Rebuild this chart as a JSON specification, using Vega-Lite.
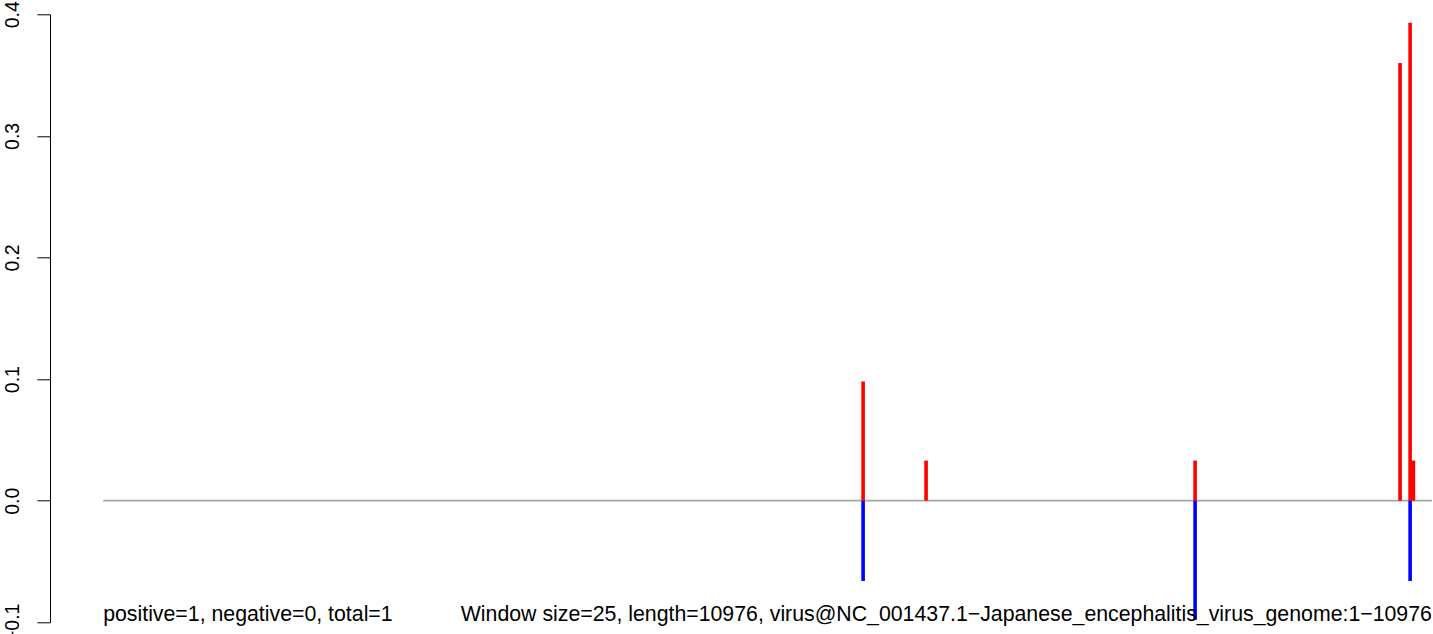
{
  "$schema": "https://vega.github.io/schema/vega-lite/v6.json",
  "autosize": {"type": "none"},
  "padding": {"left": 50, "top": 14.3, "right": 0, "bottom": 11.7},
  "width": 1383,
  "height": 608,
  "background": "white",
  "config": {"view": {"stroke": null}, "font": "Liberation Sans"},
  "datasets": {
    "signal": [
      {"pos": 6278, "value": 0.098, "strand": "plus"},
      {"pos": 6278, "value": -0.066, "strand": "minus"},
      {"pos": 6798, "value": 0.033, "strand": "plus"},
      {"pos": 9020, "value": 0.033, "strand": "plus"},
      {"pos": 9020, "value": -0.098, "strand": "minus"},
      {"pos": 10713, "value": 0.36, "strand": "plus"},
      {"pos": 10796, "value": 0.393, "strand": "plus"},
      {"pos": 10796, "value": -0.066, "strand": "minus"},
      {"pos": 10823, "value": 0.033, "strand": "plus"}
    ],
    "notes": [
      {"pos": 1, "label": "positive=1, negative=0, total=1", "side": "left"},
      {"pos": 10976, "label": "Window size=25, length=10976, virus@NC_001437.1−Japanese_encephalitis_virus_genome:1−10976", "side": "right"}
    ],
    "baseline": [
      {"start": 1, "end": 10976, "level": 0}
    ]
  },
  "layer": [
    {
      "data": {"name": "baseline"},
      "mark": {"type": "rule", "color": "#a6a6a6", "strokeWidth": 1.8},
      "encoding": {
        "x": {"field": "start", "type": "quantitative", "scale": {"domain": [-438, 10985], "nice": false, "zero": false}, "axis": null},
        "x2": {"field": "end"},
        "y": {"field": "level", "type": "quantitative", "scale": {"domain": [-0.1, 0.4], "nice": false, "zero": false},
          "axis": {
            "title": null,
            "values": [-0.1, 0, 0.1, 0.2, 0.3, 0.4],
            "format": ".1f",
            "labelAngle": -90,
            "labelAlign": "center",
            "labelBaseline": "alphabetic",
            "labelPadding": 19,
            "labelFontSize": 19.5,
            "labelFont": "Liberation Sans",
            "labelColor": "black",
            "labelFlush": false,
            "labelOverlap": false,
            "tickSize": 13,
            "tickColor": "black",
            "tickWidth": 1,
            "domainColor": "black",
            "domainWidth": 1,
            "grid": false
          }
        }
      }
    },
    {
      "data": {"name": "signal"},
      "mark": {"type": "rule", "strokeWidth": 3.6, "strokeCap": "butt"},
      "encoding": {
        "x": {"field": "pos", "type": "quantitative"},
        "y": {"field": "value", "type": "quantitative"},
        "y2": {"datum": 0},
        "color": {"field": "strand", "type": "nominal", "scale": {"domain": ["plus", "minus"], "range": ["#ff0000", "#0000ff"]}, "legend": null}
      }
    },
    {
      "data": {"name": "notes"},
      "transform": [{"filter": "datum.side === 'left'"}],
      "mark": {"type": "text", "align": "left", "baseline": "alphabetic", "fontSize": 21.3, "font": "Liberation Sans", "color": "black", "dy": -1.5},
      "encoding": {
        "x": {"field": "pos", "type": "quantitative"},
        "y": {"datum": -0.1},
        "text": {"field": "label"}
      }
    },
    {
      "data": {"name": "notes"},
      "transform": [{"filter": "datum.side === 'right'"}],
      "mark": {"type": "text", "align": "right", "baseline": "alphabetic", "fontSize": 21.3, "font": "Liberation Sans", "color": "black", "dy": -1.5},
      "encoding": {
        "x": {"field": "pos", "type": "quantitative"},
        "y": {"datum": -0.1},
        "text": {"field": "label"}
      }
    }
  ]
}
